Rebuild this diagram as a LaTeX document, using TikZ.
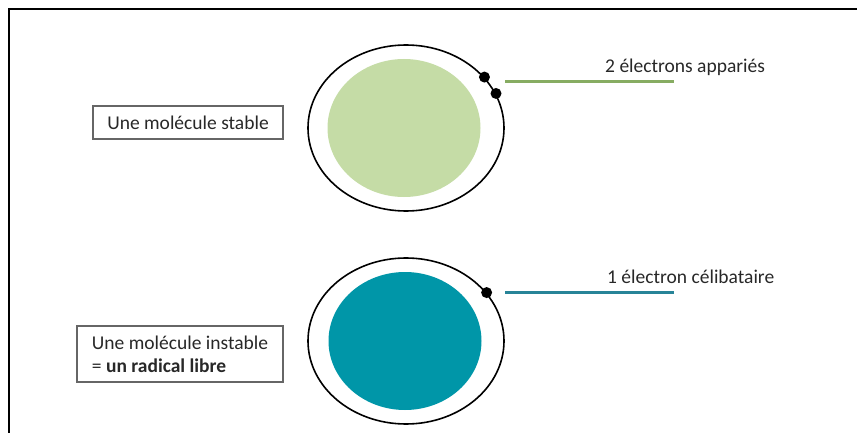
\documentclass[tikz,border=0pt]{standalone}
\usepackage{fontspec}
\setmainfont{Carlito}
\usetikzlibrary{shapes.geometric,positioning}
\definecolor{stablegreen}{RGB}{197,220,166}
\definecolor{pairgreen}{RGB}{135,172,98}
\definecolor{radicalteal}{RGB}{0,150,168}
\definecolor{singleteal}{RGB}{40,132,152}
\definecolor{textgray}{RGB}{40,40,40}
\tikzset{
    orbit/.style={draw,ellipse,line width=1.6pt,minimum width=196pt,minimum height=166pt},
    core/.style={ellipse,minimum width=153pt,minimum height=138pt},
    electron/.style={circle,fill,inner sep=0pt,minimum size=11pt},
    labelbox/.style={draw=black!60,line width=1.4pt,text=textgray,font=\fontsize{19.5}{23}\selectfont},
    caption/.style={text=textgray,font=\fontsize{19.5}{23}\selectfont,inner sep=0pt}
}
\begin{document}
\begin{tikzpicture}[x=1pt,y=-1pt]
        \useasboundingbox (0,0) rectangle (857,433);
        %% Frame
        \draw[line width=2.5pt] (9,433) -- (9,9) -- (857,9);
        %% Stable molecule
        \node[core,fill=stablegreen] (stablecore) at (404,128) {};
        \node[orbit] (stableorbit) at (406,128) {};
        \node[electron] (pairone) at (stableorbit.33) {};
        \node[electron] (pairtwo) at (stableorbit.21) {};
        \coordinate (pairstart) at (505,82);
        \coordinate (pairend) at (674,82);
        \draw[pairgreen,line width=3pt] (pairstart) -- (pairend);
        \node[caption,anchor=base west] (pairtext) at (605,73) {2 électrons appariés};
        \node[labelbox,minimum width=190pt,minimum height=33pt] (stablebox) at (188,122.5) {Une molécule stable};
        %% Unstable molecule
        \node[core,fill=radicalteal] (radicalcore) at (405,341) {};
        \node[orbit] (radicalorbit) at (406,341) {};
        \node[electron] (single) at (radicalorbit.31) {};
        \coordinate (singlestart) at (505,292);
        \coordinate (singleend) at (674,292);
        \draw[singleteal,line width=3pt] (singlestart) -- (singleend);
        \node[caption,anchor=base west] (singletext) at (607,283) {1 électron célibataire};
        \node[labelbox,align=left,inner xsep=12pt,minimum width=206pt,minimum height=56pt] (radicalbox) at (180,354)
            {Une molécule instable\\= \textbf{un radical libre}};
    \end{tikzpicture}
\end{document}
